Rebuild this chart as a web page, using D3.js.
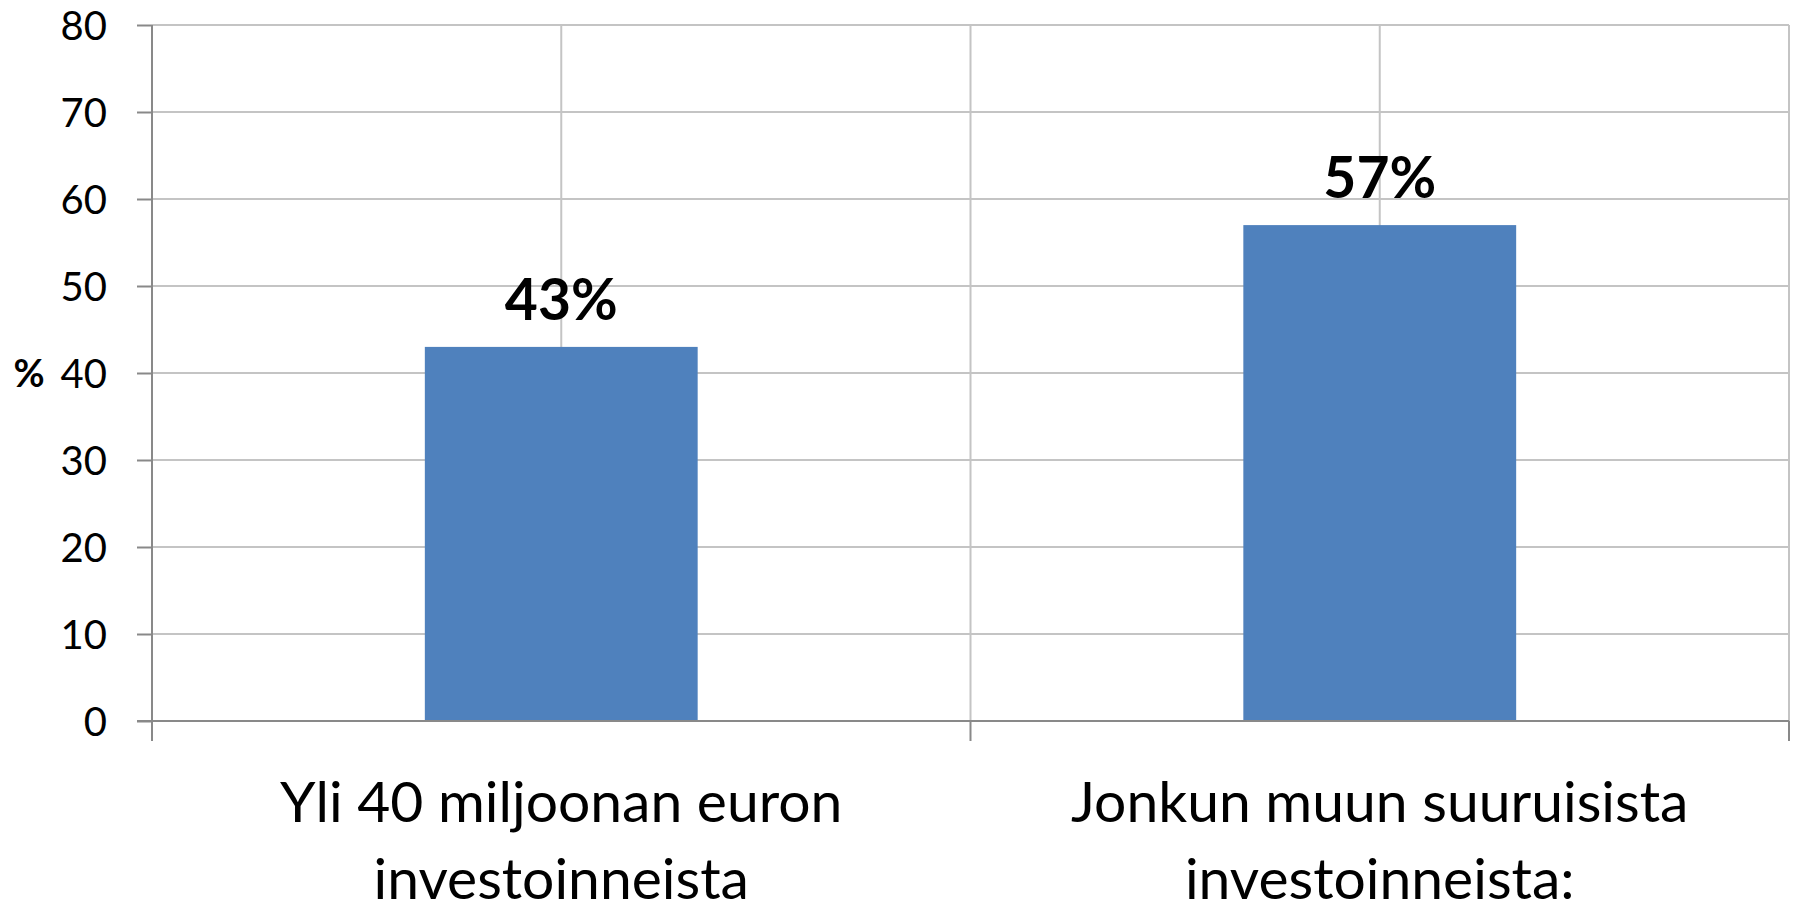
<!DOCTYPE html>
<html>
<head>
<meta charset="utf-8">
<style>
body { margin: 0; background: #fff; }
svg text { font-family: Lato, "Open Sans", sans-serif; fill: #000; }
</style>
</head>
<body>
<svg width="1794" height="904"></svg>
<script src="https://cdn.jsdelivr.net/npm/d3@7"></script>
<script>
// chart data
var categories = [["Yli 40 miljoonan euron", "investoinneista"],
                  ["Jonkun muun suuruisista", "investoinneista:"]];
var values = [43, 57];
var valueLabels = ["43%", "57%"];
var yTicks = [0, 10, 20, 30, 40, 50, 60, 70, 80];

var svg = d3.select("svg");
var plotLeft = 152, plotRight = 1789, plotTop = 25, plotBottom = 721;

var x = d3.scaleBand()
    .domain(d3.range(values.length))
    .range([plotLeft, plotRight])
    .paddingInner(0).paddingOuter(0);

var y = d3.scaleLinear()
    .domain([0, 80])
    .range([plotBottom, plotTop]);

// horizontal gridlines
svg.append("g")
  .selectAll("line")
  .data(yTicks.filter(function(d) { return d > 0; }))
  .enter().append("line")
    .attr("x1", plotLeft).attr("x2", plotRight)
    .attr("y1", function(d) { return y(d); })
    .attr("y2", function(d) { return y(d); })
    .attr("stroke", "#c4c4c4").attr("stroke-width", 2);

// vertical gridlines at centers and boundaries
var vx = [];
x.domain().forEach(function(i) {
  vx.push(x(i) + x.bandwidth() / 2);
  if (i > 0) vx.push(x(i));
});
vx.push(plotRight);
svg.append("g")
  .selectAll("line")
  .data(vx)
  .enter().append("line")
    .attr("x1", function(d) { return d; }).attr("x2", function(d) { return d; })
    .attr("y1", plotTop).attr("y2", plotBottom)
    .attr("stroke", "#c4c4c4").attr("stroke-width", 2);

// bars
var barW = x.bandwidth() / 3;
svg.append("g")
  .selectAll("rect")
  .data(values)
  .enter().append("rect")
    .attr("x", function(d, i) { return x(i) + x.bandwidth() / 2 - barW / 2; })
    .attr("y", function(d) { return y(d); })
    .attr("width", barW)
    .attr("height", function(d) { return plotBottom - y(d); })
    .attr("fill", "#4f81bd");

// value labels
svg.append("g")
  .selectAll("text")
  .data(values)
  .enter().append("text")
    .attr("x", function(d, i) { return x(i) + x.bandwidth() / 2; })
    .attr("y", function(d) { return y(d) - 27; })
    .attr("text-anchor", "middle")
    .style("font-size", "57px")
    .style("font-weight", "bold")
    .text(function(d, i) { return valueLabels[i]; });

// y axis
var yAxis = svg.append("g")
    .attr("transform", "translate(" + plotLeft + ",0)")
    .call(d3.axisLeft(y).tickValues(yTicks).tickSize(15).tickPadding(30));
yAxis.select(".domain").attr("stroke", "#898989").attr("stroke-width", 2)
    .attr("d", "M0," + plotTop + "V" + (plotBottom + 20));
yAxis.selectAll(".tick line").attr("stroke", "#898989").attr("stroke-width", 2);
yAxis.selectAll(".tick text")
    .attr("dy", "0.36em")
    .style("font-size", "40px")
    .style("font-family", "Lato, sans-serif");

// x axis line and boundary ticks
svg.append("line")
    .attr("x1", plotLeft - 15).attr("x2", plotRight)
    .attr("y1", plotBottom).attr("y2", plotBottom)
    .attr("stroke", "#898989").attr("stroke-width", 2);
var bx = x.domain().map(function(i) { return x(i); }).concat([plotRight]);
svg.append("g")
  .selectAll("line")
  .data(bx)
  .enter().append("line")
    .attr("x1", function(d) { return d; }).attr("x2", function(d) { return d; })
    .attr("y1", plotBottom).attr("y2", plotBottom + 20)
    .attr("stroke", "#898989").attr("stroke-width", 2);

// category labels
var cat = svg.append("g")
  .selectAll("text")
  .data(categories)
  .enter().append("text")
    .attr("x", function(d, i) { return x(i) + x.bandwidth() / 2; })
    .attr("text-anchor", "middle")
    .style("font-size", "57px");
cat.selectAll("tspan")
  .data(function(d) { return d; })
  .enter().append("tspan")
    .attr("x", function() { return d3.select(this.parentNode).attr("x"); })
    .attr("y", function(d, j) { return 822 + j * 77; })
    .text(function(d) { return d; });

// y axis title
svg.append("text")
    .attr("x", 29)
    .attr("y", y(40) + 14)
    .attr("text-anchor", "middle")
    .style("font-size", "38px")
    .style("font-weight", "bold")
    .text("%");
</script>
</body>
</html>
